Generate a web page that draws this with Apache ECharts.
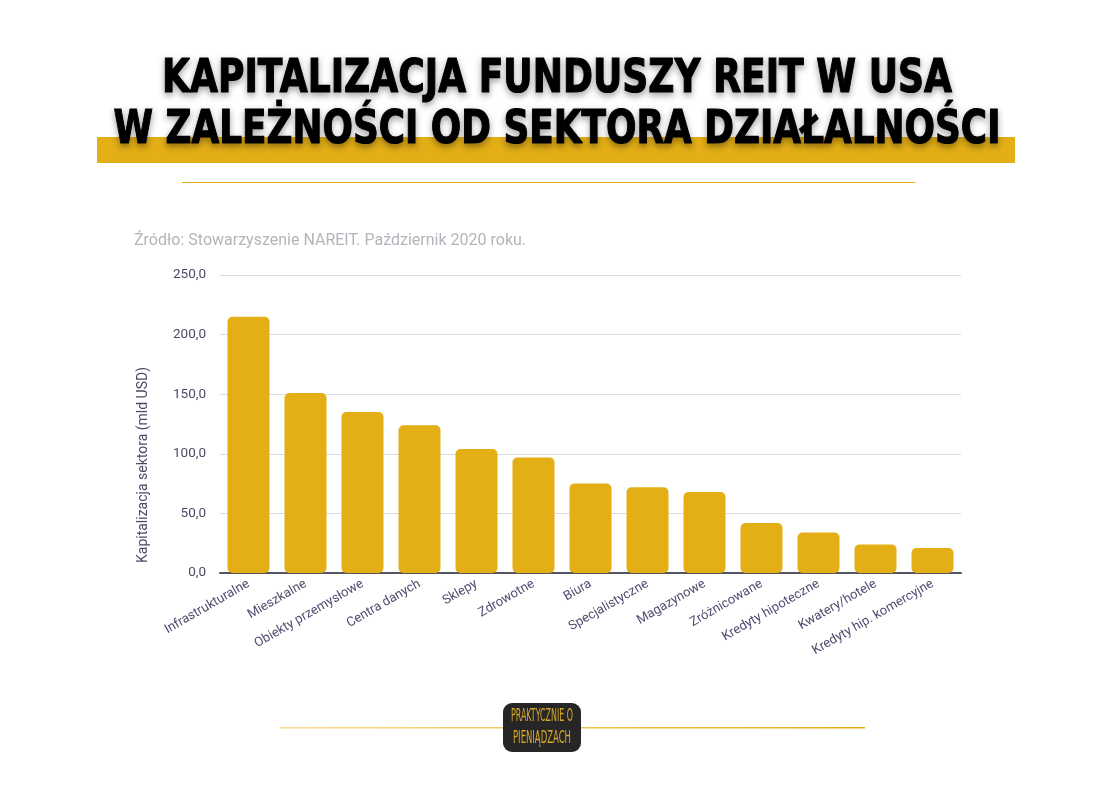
<!DOCTYPE html>
<html>
<head>
    <meta charset="utf-8">
    <script src="https://cdn.jsdelivr.net/npm/echarts@6/dist/echarts.min.js"></script>
    <style>
        html, body { margin: 0; padding: 0; background: #ffffff; }
        #chart { width: 1100px; height: 800px; }
    </style>
</head>
<body>
    <div id="chart"></div>
    <script>
        // data
        const sectors = ['Infrastrukturalne', 'Mieszkalne', 'Obiekty przemysłowe', 'Centra danych', 'Sklepy',
            'Zdrowotne', 'Biura', 'Specjalistyczne', 'Magazynowe', 'Zróżnicowane', 'Kredyty hipoteczne',
            'Kwatery/hotele', 'Kredyty hip. komercyjne'];
        const capitalization = [215, 151, 135, 124, 104, 97, 75, 72, 68, 42, 34, 24, 21];
        const titleLines = ['KAPITALIZACJA FUNDUSZY REIT W USA', 'W ZALEŻNOŚCI OD SEKTORA DZIAŁALNOŚCI'];
        const sourceText = 'Źródło: Stowarzyszenie NAREIT. Październik 2020 roku.';
        const yAxisName = 'Kapitalizacja sektora (mld USD)';
        const logoLines = ['PRAKTYCZNIE O', 'PIENIĄDZACH'];

        const gold = '#e3ae16';
        const titleFont = 'bold 46px "DejaVu Sans"';
        const logoFont = '17px "DejaVu Sans Condensed"';

        // squeeze text so it fits the width in the reference
        function fitScale(text, font, target) {
            const ctx = document.createElement('canvas').getContext('2d');
            ctx.font = font;
            return target / ctx.measureText(text).width;
        }

        const chart = echarts.init(document.getElementById('chart'), null, { renderer: 'canvas' });

        const titleStyle = {
            font: titleFont, fill: '#000000', align: 'center', verticalAlign: 'middle',
            stroke: '#000000', lineWidth: 1.2,
            textShadowColor: 'rgba(0,0,0,0.35)', textShadowBlur: 6, textShadowOffsetY: 3
        };

        const option = {
            backgroundColor: '#ffffff',
            animation: false,
            grid: { left: 220, right: 139, top: 275, bottom: 227 },
            xAxis: {
                type: 'category',
                data: sectors,
                axisLine: { lineStyle: { color: '#55555f', width: 2 } },
                axisTick: { show: false },
                axisLabel: {
                    interval: 0,
                    rotate: 30,
                    color: '#4d4d70',
                    fontFamily: 'Roboto',
                    fontSize: 13,
                    margin: 10
                }
            },
            yAxis: {
                type: 'value',
                min: 0,
                max: 250,
                interval: 50,
                axisLine: { show: false },
                axisTick: { show: false },
                splitLine: { lineStyle: { color: '#dcdce0', width: 1 } },
                axisLabel: {
                    color: '#4a4a66',
                    fontFamily: 'Roboto',
                    fontSize: 13.5,
                    margin: 14,
                    formatter: function (v) { return v.toFixed(1).replace('.', ','); }
                }
            },
            series: [{
                type: 'bar',
                data: capitalization,
                barWidth: 42,
                itemStyle: { color: gold, borderRadius: 5 }
            }],
            graphic: [
                // yellow band behind the second title line
                { type: 'rect', shape: { x: 97, y: 137, width: 918, height: 26 }, style: { fill: gold }, z: 1 },
                {
                    type: 'text', x: 557, y: 80, scaleX: fitScale(titleLines[0], titleFont, 790), z: 2,
                    style: Object.assign({ text: titleLines[0] }, titleStyle)
                },
                {
                    type: 'text', x: 557, y: 131, scaleX: fitScale(titleLines[1], titleFont, 887), z: 2,
                    style: Object.assign({ text: titleLines[1] }, titleStyle)
                },
                // thin line under the title
                { type: 'rect', shape: { x: 182, y: 182, width: 733, height: 1 }, style: { fill: gold } },
                {
                    type: 'text', x: 134, y: 241,
                    style: { text: sourceText, font: '16px Roboto', fill: '#b4b4bc', verticalAlign: 'middle' }
                },
                // y axis title, sits a bit below the middle of the axis
                {
                    type: 'text', x: 143, y: 465, rotation: Math.PI / 2,
                    style: { text: yAxisName, font: '14px Roboto', fill: '#4a4a66', align: 'center', verticalAlign: 'middle' }
                },
                // bottom line and logo
                {
                    type: 'rect', shape: { x: 280, y: 727, width: 585, height: 1.5 },
                    style: {
                        fill: new echarts.graphic.LinearGradient(0, 0, 1, 0, [
                            { offset: 0, color: '#f7dc94' }, { offset: 1, color: '#e6ac10' }
                        ])
                    }
                },
                { type: 'rect', shape: { x: 503, y: 703, width: 78, height: 49, r: 9 }, style: { fill: '#262626' }, z: 3 },
                {
                    type: 'text', x: 542, y: 717, scaleX: fitScale(logoLines[0], logoFont, 62), z: 4,
                    style: { text: logoLines[0], font: logoFont, fill: '#d8a92c', align: 'center', verticalAlign: 'middle' }
                },
                {
                    type: 'text', x: 542, y: 739, scaleX: fitScale(logoLines[1], logoFont, 58), z: 4,
                    style: { text: logoLines[1], font: logoFont, fill: '#d8a92c', align: 'center', verticalAlign: 'middle' }
                }
            ]
        };

        chart.setOption(option);
    </script>
</body>
</html>
